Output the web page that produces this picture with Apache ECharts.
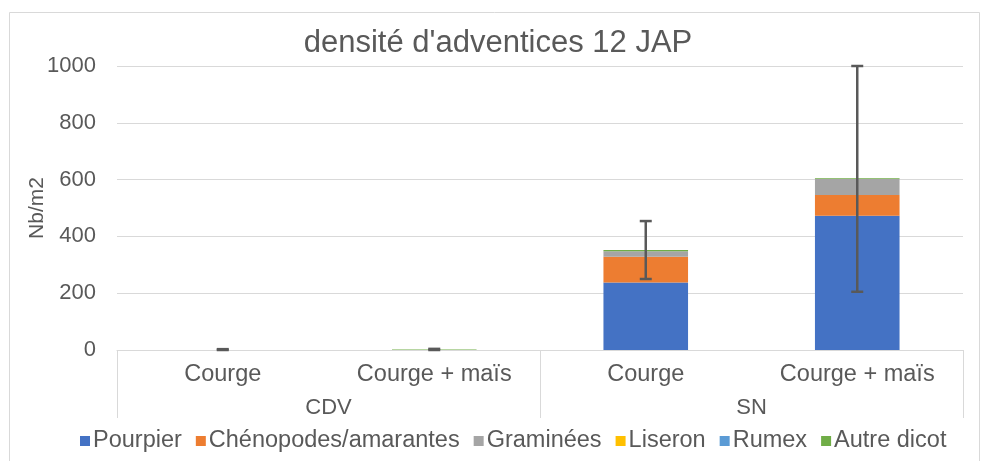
<!DOCTYPE html>
<html>
<head>
<meta charset="utf-8">
<script src="https://cdn.jsdelivr.net/npm/echarts@6/dist/echarts.min.js"></script>
<style>
html,body{margin:0;padding:0;background:#fff;}
#chart{width:981px;height:461px;}
</style>
</head>
<body>
<div id="chart"></div>
<script>
// ---- data ----
var titleText = "densité d'adventices 12 JAP";
var subCategories = ['Courge', 'Courge + maïs', 'Courge', 'Courge + maïs'];
var groups = ['CDV', 'SN'];
var seriesNames = ['Pourpier', 'Chénopodes/amarantes', 'Graminées', 'Liseron', 'Rumex', 'Autre dicot'];
var pourpier = [0, 0, 238, 473];
var chenopodes = [0, 0, 90, 73];
var graminees = [0, 0, 20, 56];
var liseron = [0, 0, 0, 0];
var rumex = [0, 0, 0, 0];
var autreDicot = [0, 2, 4, 3];
var errors = [3, 2, 102, 400];
var yTicks = [0, 200, 400, 600, 800, 1000];

var colors = ['#4472C4', '#ED7D31', '#A5A5A5', '#FFC000', '#5B9BD5', '#70AD47'];
var seriesValues = [pourpier, chenopodes, graminees, liseron, rumex, autreDicot];

var totals = subCategories.map(function (_, i) {
  return seriesValues.reduce(function (s, arr) { return s + arr[i]; }, 0);
});
var errData = totals.map(function (t, i) { return [i, t, errors[i]]; });

var FONT = 'Liberation Sans, Arial, sans-serif';
var TXT = '#595959';
var GRIDC = '#d9d9d9';

var chart = echarts.init(document.getElementById('chart'));

var series = seriesNames.map(function (name, k) {
  return {
    name: name,
    type: 'bar',
    stack: 'total',
    barWidth: '40%',
    itemStyle: { color: colors[k] },
    data: seriesValues[k]
  };
});

var yMin = yTicks[0], yMax = yTicks[yTicks.length - 1];

series.push({
  name: 'err',
  type: 'custom',
  xAxisIndex: 0,
  yAxisIndex: 0,
  z: 10,
  silent: true,
  renderItem: function (params, api) {
    var x = api.value(0), t = api.value(1), e = api.value(2);
    var hi = Math.min(t + e, yMax), lo = Math.max(t - e, yMin);
    var pHi = api.coord([x, hi]);
    var pLo = api.coord([x, lo]);
    var hw = 6;
    var st = { stroke: '#595959', lineWidth: 2.5 };
    return {
      type: 'group',
      children: [
        { type: 'line', shape: { x1: pHi[0], y1: pHi[1], x2: pLo[0], y2: pLo[1] }, style: st },
        { type: 'line', shape: { x1: pHi[0] - hw, y1: pHi[1], x2: pHi[0] + hw, y2: pHi[1] }, style: st },
        { type: 'line', shape: { x1: pLo[0] - hw, y1: pLo[1], x2: pLo[0] + hw, y2: pLo[1] }, style: st }
      ]
    };
  },
  data: errData
});

var option = {
  animation: false,
  backgroundColor: '#fff',
  color: colors,
  graphic: [{
    type: 'rect',
    left: 7, top: 10,
    shape: { width: 970, height: 470 },
    style: { fill: 'none', stroke: GRIDC, lineWidth: 1 },
    z: -10
  }],
  title: {
    text: titleText,
    left: 498,
    textAlign: 'center',
    top: 28,
    padding: 0,
    textStyle: { fontFamily: FONT, fontSize: 31, fontWeight: 'normal', color: TXT }
  },
  legend: {
    data: seriesNames,
    left: 80,
    top: 429,
    padding: 0,
    itemWidth: 10,
    itemHeight: 10,
    itemGap: 14,
    icon: 'rect',
    textStyle: { fontFamily: FONT, fontSize: 23.5, color: TXT, padding: [0, 0, 0, -2] }
  },
  grid: { left: 117, right: 18, top: 66, bottom: 111, containLabel: false },
  xAxis: [{
    type: 'category',
    data: subCategories,
    position: 'bottom',
    axisLine: { show: true, lineStyle: { color: GRIDC, width: 1 } },
    axisTick: { show: false },
    axisLabel: { fontFamily: FONT, fontSize: 23.5, color: TXT, margin: 13, interval: 0 }
  }, {
    type: 'category',
    data: groups,
    position: 'bottom',
    axisLine: { show: false },
    axisTick: { show: true, length: 68, lineStyle: { color: GRIDC, width: 1 } },
    axisLabel: { fontFamily: FONT, fontSize: 22, color: TXT, margin: 47 }
  }],
  yAxis: {
    type: 'value',
    min: yMin,
    max: yMax,
    interval: 200,
    name: 'Nb/m2',
    nameLocation: 'middle',
    nameRotate: 90,
    nameGap: 69,
    nameMoveOverlap: false,
    nameTextStyle: { fontFamily: FONT, fontSize: 21, color: TXT },
    axisLine: { show: false },
    axisTick: { show: false },
    splitLine: { lineStyle: { color: GRIDC, width: 1 } },
    axisLabel: {
      fontFamily: FONT, fontSize: 22, color: TXT, margin: 21,
      formatter: function (v) { return String(v); }
    }
  },
  series: series
};

chart.setOption(option);
</script>
</body>
</html>
